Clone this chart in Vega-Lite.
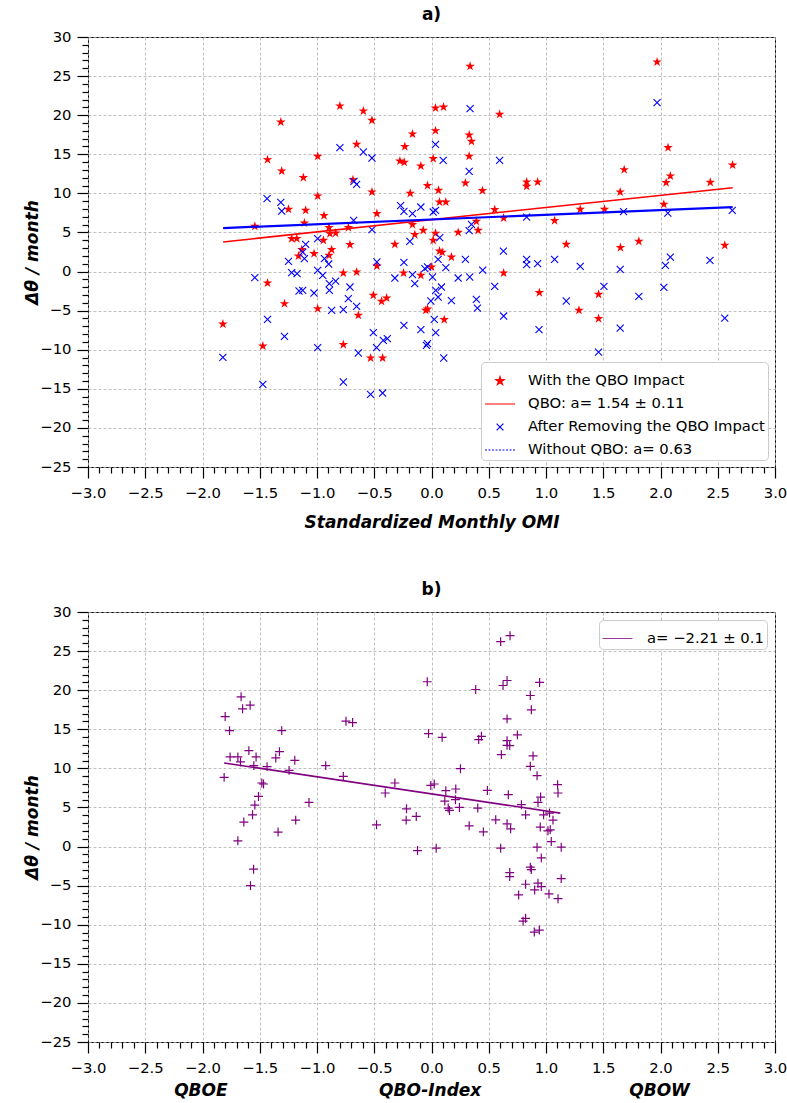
{
"$schema": "https://vega.github.io/schema/vega-lite/v6.json",
"background": "white",
"padding": {"left": 23, "top": 5, "right": 5, "bottom": 5},
"spacing": 48,
"resolve": {"scale": {"color": "independent"}},
"config": {
 "font": "DejaVu Sans",
 "view": {"stroke": "#000000", "strokeWidth": 1},
 "title": {"font": "DejaVu Sans", "fontSize": 17, "fontWeight": "bold", "color": "#000000", "offset": 5, "anchor": "middle"},
 "axis": {"domain": false, "grid": true, "gridColor": "#b0b0b0", "gridDash": [3, 2], "gridWidth": 0.8, "tickColor": "#000000", "tickWidth": 1.2, "labelFont": "DejaVu Sans", "labelFontSize": 14.8, "labelColor": "#000000", "titleFont": "DejaVu Sans", "titleFontSize": 17, "titleFontWeight": "bold", "titleFontStyle": "italic", "titleColor": "#000000", "labelOverlap": false, "labelFlush": false, "labelBound": false, "titleLimit": 800},
 "axisX": {"titlePadding": 15, "labelPadding": 7},
 "axisY": {"titlePadding": -2, "labelPadding": 6},
 "legend": {"labelFont": "DejaVu Sans", "labelFontSize": 14.8, "labelColor": "#000000", "fillColor": "#ffffff", "strokeColor": "#cccccc", "cornerRadius": 4, "padding": 3, "labelLimit": 400}
},
"datasets": {
 "a_with": [
  {"x":-0.80,"y":21.17},{"x":-0.595,"y":20.53},{"x":-0.52,"y":19.34},{"x":-1.316,"y":19.12},{"x":-0.654,"y":16.27},{"x":-1.432,"y":14.31},{"x":-0.994,"y":14.74},{"x":-1.308,"y":12.86},{"x":-1.119,"y":12.01},{"x":-0.686,"y":11.75},{"x":-0.52,"y":10.17},{"x":-0.994,"y":9.66},{"x":-1.249,"y":7.96},{"x":-1.099,"y":7.83},{"x":-0.477,"y":7.41},{"x":-0.939,"y":7.15},{"x":-1.543,"y":5.78},{"x":-1.11,"y":6.2},{"x":-0.895,"y":5.62},{"x":-0.726,"y":5.62},{"x":-0.887,"y":4.85},{"x":-0.837,"y":4.92},{"x":-1.221,"y":4.21},{"x":-1.177,"y":4.21},{"x":-0.944,"y":3.99},{"x":-0.712,"y":3.44},{"x":-1.133,"y":2.8},{"x":-0.872,"y":2.8},{"x":-1.162,"y":1.98},{"x":-1.026,"y":2.29},{"x":-0.895,"y":2.07},{"x":-0.477,"y":0.7},{"x":-0.77,"y":-0.19},{"x":-0.654,"y":-0.06},{"x":-1.432,"y":-1.47},{"x":-0.508,"y":-3.04},{"x":-0.436,"y":-3.81},{"x":-0.392,"y":-3.39},{"x":-1.284,"y":-4.11},{"x":-0.994,"y":-4.75},{"x":-0.639,"y":-5.6},{"x":-1.822,"y":-6.72},{"x":-1.473,"y":-9.53},{"x":-0.77,"y":-9.35},{"x":-0.532,"y":-11.06},{"x":-0.427,"y":-11.06},
  {"x":0.337,"y":26.25},{"x":0.035,"y":20.91},{"x":0.105,"y":21.04},{"x":0.595,"y":20.11},{"x":-0.166,"y":17.59},{"x":0.035,"y":18.02},{"x":0.329,"y":17.46},{"x":0.349,"y":16.65},{"x":-0.233,"y":15.98},{"x":-0.276,"y":14.13},{"x":-0.238,"y":13.97},{"x":-0.093,"y":13.49},{"x":0.015,"y":14.44},{"x":0.329,"y":14.74},{"x":-0.035,"y":10.99},{"x":0.296,"y":11.32},{"x":0.061,"y":10.39},{"x":0.445,"y":10.35},{"x":-0.186,"y":10.0},{"x":0.831,"y":11.45},{"x":0.831,"y":10.9},{"x":0.927,"y":11.45},{"x":0.07,"y":8.89},{"x":0.125,"y":8.89},{"x":0.552,"y":7.92},{"x":0.63,"y":6.84},{"x":1.075,"y":6.51},{"x":-0.166,"y":6.0},{"x":-0.072,"y":5.27},{"x":-0.146,"y":4.72},{"x":0.392,"y":6.42},{"x":0.407,"y":5.27},{"x":0.035,"y":4.89},{"x":0.233,"y":5.01},{"x":0.015,"y":3.99},{"x":-0.32,"y":3.48},{"x":1.177,"y":3.48},{"x":0.07,"y":2.62},{"x":0.093,"y":2.46},{"x":0.174,"y":1.85},{"x":0.0,"y":0.58},{"x":-0.244,"y":-0.19},{"x":-0.093,"y":-0.49},{"x":0.63,"y":-0.19},{"x":1.299,"y":7.96},{"x":0.942,"y":-2.7},{"x":1.288,"y":-4.96},{"x":-0.05,"y":-4.96},{"x":-0.035,"y":-4.8},{"x":0.111,"y":-6.15},
  {"x":1.97,"y":26.8},{"x":2.066,"y":15.85},{"x":2.63,"y":13.62},{"x":1.683,"y":13.03},{"x":2.086,"y":12.22},{"x":2.049,"y":11.37},{"x":2.435,"y":11.41},{"x":1.648,"y":10.17},{"x":2.029,"y":8.6},{"x":1.511,"y":7.96},{"x":1.811,"y":3.86},{"x":1.65,"y":3.06},{"x":2.561,"y":3.35},{"x":1.459,"y":-2.92},{"x":1.459,"y":-6.02}
 ],
 "a_removed": [
  {"x":-0.80,"y":15.85},{"x":-0.595,"y":15.29},{"x":-0.52,"y":14.52},{"x":-1.436,"y":9.32},{"x":-1.316,"y":8.85},{"x":-1.308,"y":7.74},{"x":-0.654,"y":11.15},{"x":-0.677,"y":11.54},{"x":-0.68,"y":6.55},{"x":-0.52,"y":5.36},{"x":-0.994,"y":4.21},{"x":-1.099,"y":3.48},{"x":-1.125,"y":2.49},{"x":-1.11,"y":1.65},{"x":-1.249,"y":1.3},{"x":-0.935,"y":1.65},{"x":-0.898,"y":0.96},{"x":-0.477,"y":1.22},{"x":-1.221,"y":-0.14},{"x":-1.174,"y":-0.27},{"x":-0.994,"y":0.15},{"x":-0.95,"y":-0.49},{"x":-0.837,"y":-1.22},{"x":-0.892,"y":-1.55},{"x":-1.543,"y":-0.78},{"x":-0.712,"y":-1.98},{"x":-1.157,"y":-2.49},{"x":-1.125,"y":-2.4},{"x":-0.892,"y":-2.4},{"x":-1.026,"y":-2.75},{"x":-0.726,"y":-3.47},{"x":-0.654,"y":-4.45},{"x":-0.872,"y":-4.96},{"x":-0.77,"y":-4.87},{"x":-1.432,"y":-6.11},{"x":-1.284,"y":-8.29},{"x":-0.508,"y":-7.82},{"x":-0.421,"y":-8.8},{"x":-0.386,"y":-8.58},{"x":-0.48,"y":-9.73},{"x":-0.994,"y":-9.73},{"x":-0.639,"y":-10.42},{"x":-1.822,"y":-10.97},{"x":-1.473,"y":-14.43},{"x":-0.77,"y":-14.13},{"x":-0.532,"y":-15.71},{"x":-0.427,"y":-15.54},
  {"x":0.337,"y":20.84},{"x":0.035,"y":16.27},{"x":0.102,"y":14.22},{"x":0.595,"y":14.22},{"x":0.329,"y":12.82},{"x":-0.27,"y":8.43},{"x":-0.241,"y":7.7},{"x":-0.093,"y":8.25},{"x":-0.166,"y":7.41},{"x":0.015,"y":7.61},{"x":0.035,"y":7.83},{"x":0.831,"y":6.97},{"x":0.349,"y":6.04},{"x":0.329,"y":5.23},{"x":-0.189,"y":3.86},{"x":0.072,"y":4.34},{"x":0.628,"y":2.62},{"x":-0.241,"y":1.18},{"x":0.058,"y":1.56},{"x":0.125,"y":0.5},{"x":-0.058,"y":0.37},{"x":-0.035,"y":0.58},{"x":0.296,"y":1.56},{"x":0.447,"y":0.19},{"x":0.831,"y":1.56},{"x":0.831,"y":0.88},{"x":0.927,"y":1.01},{"x":1.075,"y":1.56},{"x":-0.32,"y":-0.83},{"x":-0.166,"y":-0.4},{"x":0.009,"y":-0.7},{"x":0.233,"y":-0.83},{"x":0.334,"y":-0.7},{"x":1.299,"y":0.67},{"x":-0.146,"y":-1.55},{"x":0.552,"y":-1.89},{"x":0.037,"y":-2.4},{"x":0.087,"y":-1.98},{"x":0.058,"y":-3.26},{"x":-0.006,"y":-3.77},{"x":0.174,"y":-3.72},{"x":0.392,"y":-3.56},{"x":0.401,"y":-4.67},{"x":1.177,"y":-3.77},{"x":0.63,"y":-5.69},{"x":0.024,"y":-6.11},{"x":-0.241,"y":-6.88},{"x":-0.093,"y":-7.43},{"x":0.037,"y":-7.82},{"x":0.939,"y":-7.43},{"x":-0.044,"y":-9.44},{"x":-0.035,"y":-9.22},{"x":0.107,"y":-11.06},
  {"x":1.97,"y":21.6},{"x":1.677,"y":7.66},{"x":2.064,"y":7.48},{"x":2.627,"y":7.83},{"x":1.648,"y":0.28},{"x":2.043,"y":0.79},{"x":2.086,"y":1.85},{"x":2.432,"y":1.43},{"x":1.506,"y":-1.89},{"x":1.811,"y":-3.17},{"x":2.029,"y":-2.02},{"x":1.648,"y":-7.23},{"x":2.561,"y":-5.95},{"x":1.459,"y":-10.3}
 ],
 "a_fit_red": [
  {"series":"QBO: a= 1.54 ± 0.11","x":-1.82,"y":3.79},{"series":"QBO: a= 1.54 ± 0.11","x":2.63,"y":10.73}
 ],
 "a_fit_blue": [
  {"series":"Without QBO: a= 0.63","x":-1.82,"y":5.56},{"series":"Without QBO: a= 0.63","x":2.63,"y":8.25}
 ],
 "b_points": [
  {"x":-1.663,"y":19.15},{"x":-1.584,"y":18.08},{"x":-1.65,"y":17.62},{"x":-1.802,"y":16.63},{"x":-1.764,"y":14.83},{"x":-1.308,"y":14.83},{"x":-1.595,"y":12.27},{"x":-1.328,"y":12.14},{"x":-1.759,"y":11.46},{"x":-1.691,"y":11.46},{"x":-1.532,"y":11.46},{"x":-1.36,"y":11.33},{"x":-1.668,"y":10.82},{"x":-1.194,"y":11.03},{"x":-1.552,"y":10.35},{"x":-1.436,"y":10.22},{"x":-0.924,"y":10.35},{"x":-1.244,"y":9.74},{"x":-1.811,"y":8.85},{"x":-1.482,"y":8.13},{"x":-1.467,"y":8.0},{"x":-1.511,"y":6.41},{"x":-1.543,"y":5.31},{"x":-1.07,"y":5.64},{"x":-1.563,"y":4.06},{"x":-1.639,"y":3.13},{"x":-1.186,"y":3.38},{"x":-1.34,"y":1.85},{"x":-1.691,"y":0.73},{"x":-1.554,"y":-2.9},{"x":-1.581,"y":-5.0},
  {"x":-0.037,"y":21.08},{"x":-0.747,"y":16.03},{"x":-0.689,"y":15.86},{"x":-0.026,"y":14.45},{"x":0.093,"y":13.97},{"x":0.253,"y":9.96},{"x":-0.77,"y":8.97},{"x":-0.32,"y":8.13},{"x":-0.006,"y":7.82},{"x":0.024,"y":8.0},{"x":-0.404,"y":6.85},{"x":0.125,"y":7.14},{"x":0.212,"y":7.36},{"x":0.116,"y":5.82},{"x":0.209,"y":5.99},{"x":0.146,"y":4.92},{"x":0.157,"y":4.62},{"x":0.244,"y":5.0},{"x":-0.218,"y":4.83},{"x":-0.221,"y":3.38},{"x":-0.133,"y":3.85},{"x":-0.48,"y":2.78},{"x":-0.122,"y":-0.51},{"x":0.041,"y":-0.21},
  {"x":0.604,"y":26.21},{"x":0.686,"y":26.97},{"x":0.66,"y":21.24},{"x":0.625,"y":20.6},{"x":0.944,"y":20.99},{"x":0.386,"y":20.09},{"x":0.863,"y":19.32},{"x":0.872,"y":17.49},{"x":0.66,"y":16.33},{"x":0.436,"y":14.1},{"x":0.412,"y":13.68},{"x":0.75,"y":14.28},{"x":0.66,"y":13.55},{"x":0.66,"y":12.95},{"x":0.683,"y":12.91},{"x":0.61,"y":11.76},{"x":0.887,"y":11.59},{"x":0.863,"y":10.26},{"x":0.922,"y":9.06},{"x":1.101,"y":7.91},{"x":1.105,"y":6.85},{"x":0.488,"y":7.18},{"x":0.671,"y":6.63},{"x":0.404,"y":4.92},{"x":0.953,"y":6.33},{"x":0.93,"y":5.64},{"x":0.785,"y":5.35},{"x":0.822,"y":4.06},{"x":0.979,"y":4.06},{"x":1.031,"y":4.28},{"x":1.061,"y":3.38},{"x":0.561,"y":3.42},{"x":0.66,"y":2.91},{"x":0.691,"y":2.27},{"x":0.329,"y":2.65},{"x":0.453,"y":1.88},{"x":0.95,"y":2.49},{"x":1.017,"y":2.01},{"x":1.037,"y":2.14},{"x":1.046,"y":0.64},{"x":0.604,"y":-0.21},{"x":0.922,"y":-0.08},{"x":1.133,"y":-0.08},{"x":0.959,"y":-1.45},{"x":0.863,"y":-2.64},{"x":0.872,"y":-2.95},{"x":0.683,"y":-3.33},{"x":0.683,"y":-3.85},{"x":1.133,"y":-4.1},{"x":0.822,"y":-4.82},{"x":0.93,"y":-4.69},{"x":0.959,"y":-5.13},{"x":0.901,"y":-5.55},{"x":0.761,"y":-6.19},{"x":1.026,"y":-6.06},{"x":1.105,"y":-6.67},{"x":0.822,"y":-9.18},{"x":0.8,"y":-9.55},{"x":0.898,"y":-10.94},{"x":0.942,"y":-10.68}
 ],
 "b_fit": [
  {"fit":"a= −2.21 ± 0.1","x":-1.811,"y":10.69},{"fit":"a= −2.21 ± 0.1","x":1.125,"y":4.28}
 ]
},
"vconcat": [
 {
  "title": {"text": "a)"},
  "width": 687,
  "height": 430,
  "encoding": {
   "x": {"field": "x", "type": "quantitative", "scale": {"domain": [-3, 3], "nice": false, "zero": false},
    "axis": {"title": "Standardized Monthly OMI", "tickCount": 60, "format": ".1f",
     "labelExpr": "abs(datum.value*2 - round(datum.value*2)) < 0.001 ? datum.label : ''",
     "tickSize": {"condition": {"test": "abs(datum.value*2 - round(datum.value*2)) < 0.001", "value": 11}, "value": 6},
     "gridOpacity": {"condition": {"test": "abs(datum.value*2 - round(datum.value*2)) < 0.001", "value": 1}, "value": 0}}},
   "y": {"field": "y", "type": "quantitative", "scale": {"domain": [-25, 30], "nice": false, "zero": false},
    "axis": {"title": "Δθ / month", "tickCount": 55, "format": "d",
     "labelExpr": "abs(datum.value % 5) < 0.001 ? datum.label : ''",
     "tickSize": {"condition": {"test": "abs(datum.value % 5) < 0.001", "value": 11}, "value": 6},
     "gridOpacity": {"condition": {"test": "abs(datum.value % 5) < 0.001", "value": 1}, "value": 0}}}
  },
  "layer": [
   {
    "data": {"name": "a_with"},
    "mark": {"type": "point", "shape": "M0,-1L0.223,-0.307L0.951,-0.309L0.361,0.117L0.588,0.809L0,0.38L-0.588,0.809L-0.361,0.117L-0.951,-0.309L-0.223,-0.307Z", "size": 100, "filled": true, "opacity": 1, "strokeWidth": 0},
    "encoding": {
     "color": {"datum": "With the QBO Impact", "type": "nominal",
      "scale": {"domain": ["With the QBO Impact", "QBO: a= 1.54 ± 0.11", "After Removing the QBO Impact", "Without QBO: a= 0.63"], "range": ["#ff0000", "#ff0000", "#0000ff", "#0000ff"]},
      "legend": {"title": null, "orient": "bottom-right", "offset": 7, "symbolSize": 900, "symbolStrokeWidth": 1, "rowPadding": 0, "labelOffset": 12,
       "encode": {"symbols": {"update": {
        "shape": {"signal": "datum.value === 'With the QBO Impact' ? 'M0,-1L0.223,-0.307L0.951,-0.309L0.361,0.117L0.588,0.809L0,0.38L-0.588,0.809L-0.361,0.117L-0.951,-0.309L-0.223,-0.307Z' : (datum.value === 'After Removing the QBO Impact' ? 'M-1,-1L1,1M-1,1L1,-1' : 'M-1,0L1,0')"},
        "size": {"signal": "datum.value === 'With the QBO Impact' ? 80 : (datum.value === 'After Removing the QBO Impact' ? 45 : 900)"},
        "fill": {"signal": "datum.value === 'With the QBO Impact' ? '#ff0000' : 'transparent'"},
        "stroke": {"signal": "datum.value === 'With the QBO Impact' ? 'transparent' : ((datum.value === 'After Removing the QBO Impact' || datum.value === 'Without QBO: a= 0.63') ? '#0000ff' : '#ff0000')"},
        "strokeDash": {"signal": "datum.value === 'Without QBO: a= 0.63' ? [2, 1.5] : [1, 0]"},
        "strokeWidth": {"value": 1.1},
        "opacity": {"value": 1}
       }}}}
     }
    }
   },
   {
    "data": {"name": "a_removed"},
    "mark": {"type": "point", "shape": "M-1,-1L1,1M-1,1L1,-1", "size": 50, "filled": false, "opacity": 1, "strokeWidth": 1.1},
    "encoding": {"color": {"datum": "After Removing the QBO Impact", "type": "nominal",
      "legend": {"title": null, "orient": "bottom-right", "offset": 7, "symbolSize": 900, "symbolStrokeWidth": 1, "rowPadding": 0, "labelOffset": 12,
       "encode": {"symbols": {"update": {
        "shape": {"signal": "datum.value === 'With the QBO Impact' ? 'M0,-1L0.223,-0.307L0.951,-0.309L0.361,0.117L0.588,0.809L0,0.38L-0.588,0.809L-0.361,0.117L-0.951,-0.309L-0.223,-0.307Z' : (datum.value === 'After Removing the QBO Impact' ? 'M-1,-1L1,1M-1,1L1,-1' : 'M-1,0L1,0')"},
        "size": {"signal": "datum.value === 'With the QBO Impact' ? 80 : (datum.value === 'After Removing the QBO Impact' ? 45 : 900)"},
        "fill": {"signal": "datum.value === 'With the QBO Impact' ? '#ff0000' : 'transparent'"},
        "stroke": {"signal": "datum.value === 'With the QBO Impact' ? 'transparent' : ((datum.value === 'After Removing the QBO Impact' || datum.value === 'Without QBO: a= 0.63') ? '#0000ff' : '#ff0000')"},
        "strokeDash": {"signal": "datum.value === 'Without QBO: a= 0.63' ? [2, 1.5] : [1, 0]"},
        "strokeWidth": {"value": 1.1},
        "opacity": {"value": 1}
       }}}}}}
   },
   {
    "data": {"name": "a_fit_red"},
    "mark": {"type": "line", "strokeWidth": 1.5},
    "encoding": {"color": {"field": "series", "type": "nominal",
      "legend": {"title": null, "orient": "bottom-right", "offset": 7, "symbolSize": 900, "symbolStrokeWidth": 1, "rowPadding": 0, "labelOffset": 12,
       "encode": {"symbols": {"update": {
        "shape": {"signal": "datum.value === 'With the QBO Impact' ? 'M0,-1L0.223,-0.307L0.951,-0.309L0.361,0.117L0.588,0.809L0,0.38L-0.588,0.809L-0.361,0.117L-0.951,-0.309L-0.223,-0.307Z' : (datum.value === 'After Removing the QBO Impact' ? 'M-1,-1L1,1M-1,1L1,-1' : 'M-1,0L1,0')"},
        "size": {"signal": "datum.value === 'With the QBO Impact' ? 80 : (datum.value === 'After Removing the QBO Impact' ? 45 : 900)"},
        "fill": {"signal": "datum.value === 'With the QBO Impact' ? '#ff0000' : 'transparent'"},
        "stroke": {"signal": "datum.value === 'With the QBO Impact' ? 'transparent' : ((datum.value === 'After Removing the QBO Impact' || datum.value === 'Without QBO: a= 0.63') ? '#0000ff' : '#ff0000')"},
        "strokeDash": {"signal": "datum.value === 'Without QBO: a= 0.63' ? [2, 1.5] : [1, 0]"},
        "strokeWidth": {"value": 1.1},
        "opacity": {"value": 1}
       }}}}}}
   },
   {
    "data": {"name": "a_fit_blue"},
    "mark": {"type": "line", "strokeWidth": 2.2},
    "encoding": {"color": {"field": "series", "type": "nominal",
      "legend": {"title": null, "orient": "bottom-right", "offset": 7, "symbolSize": 900, "symbolStrokeWidth": 1, "rowPadding": 0, "labelOffset": 12,
       "encode": {"symbols": {"update": {
        "shape": {"signal": "datum.value === 'With the QBO Impact' ? 'M0,-1L0.223,-0.307L0.951,-0.309L0.361,0.117L0.588,0.809L0,0.38L-0.588,0.809L-0.361,0.117L-0.951,-0.309L-0.223,-0.307Z' : (datum.value === 'After Removing the QBO Impact' ? 'M-1,-1L1,1M-1,1L1,-1' : 'M-1,0L1,0')"},
        "size": {"signal": "datum.value === 'With the QBO Impact' ? 80 : (datum.value === 'After Removing the QBO Impact' ? 45 : 900)"},
        "fill": {"signal": "datum.value === 'With the QBO Impact' ? '#ff0000' : 'transparent'"},
        "stroke": {"signal": "datum.value === 'With the QBO Impact' ? 'transparent' : ((datum.value === 'After Removing the QBO Impact' || datum.value === 'Without QBO: a= 0.63') ? '#0000ff' : '#ff0000')"},
        "strokeDash": {"signal": "datum.value === 'Without QBO: a= 0.63' ? [2, 1.5] : [1, 0]"},
        "strokeWidth": {"value": 1.1},
        "opacity": {"value": 1}
       }}}}}}
   }
  ]
 },
 {
  "title": {"text": "b)"},
  "width": 687,
  "height": 430,
  "encoding": {
   "x": {"field": "x", "type": "quantitative", "scale": {"domain": [-3, 3], "nice": false, "zero": false},
    "axis": {"title": "\u00a0QBOE\u00a0\u00a0\u00a0\u00a0\u00a0\u00a0\u00a0\u00a0\u00a0\u00a0\u00a0\u00a0\u00a0\u00a0\u00a0\u00a0\u00a0\u00a0\u00a0\u00a0\u00a0\u00a0\u00a0\u00a0\u00a0\u2009QBO-Index\u00a0\u00a0\u00a0\u00a0\u00a0\u00a0\u00a0\u00a0\u00a0\u00a0\u00a0\u00a0\u00a0\u00a0\u00a0\u00a0\u00a0\u00a0\u00a0\u00a0\u00a0\u00a0\u00a0\u00a0\u00a0QBOW", "titlePadding": 8, "tickCount": 60, "format": ".1f",
     "labelExpr": "abs(datum.value*2 - round(datum.value*2)) < 0.001 ? datum.label : ''",
     "tickSize": {"condition": {"test": "abs(datum.value*2 - round(datum.value*2)) < 0.001", "value": 11}, "value": 6},
     "gridOpacity": {"condition": {"test": "abs(datum.value*2 - round(datum.value*2)) < 0.001", "value": 1}, "value": 0}}},
   "y": {"field": "y", "type": "quantitative", "scale": {"domain": [-25, 30], "nice": false, "zero": false},
    "axis": {"title": "Δθ / month", "tickCount": 55, "format": "d",
     "labelExpr": "abs(datum.value % 5) < 0.001 ? datum.label : ''",
     "tickSize": {"condition": {"test": "abs(datum.value % 5) < 0.001", "value": 11}, "value": 6},
     "gridOpacity": {"condition": {"test": "abs(datum.value % 5) < 0.001", "value": 1}, "value": 0}}}
  },
  "layer": [
   {
    "data": {"name": "b_points"},
    "mark": {"type": "point", "shape": "M-1,0L1,0M0,-1L0,1", "size": 80, "filled": false, "opacity": 1, "strokeWidth": 1.2, "color": "#800080"}
   },
   {
    "data": {"name": "b_fit"},
    "mark": {"type": "line", "strokeWidth": 1.6},
    "encoding": {"color": {"field": "fit", "type": "nominal", "scale": {"domain": ["a= −2.21 ± 0.1"], "range": ["#800080"]},
     "legend": {"title": null, "orient": "top-right", "offset": 8, "symbolType": "M-1,0L1,0", "symbolSize": 900, "symbolStrokeWidth": 0.8, "labelOffset": 14, "padding": 3}}}
   }
  ]
 }
]
}
